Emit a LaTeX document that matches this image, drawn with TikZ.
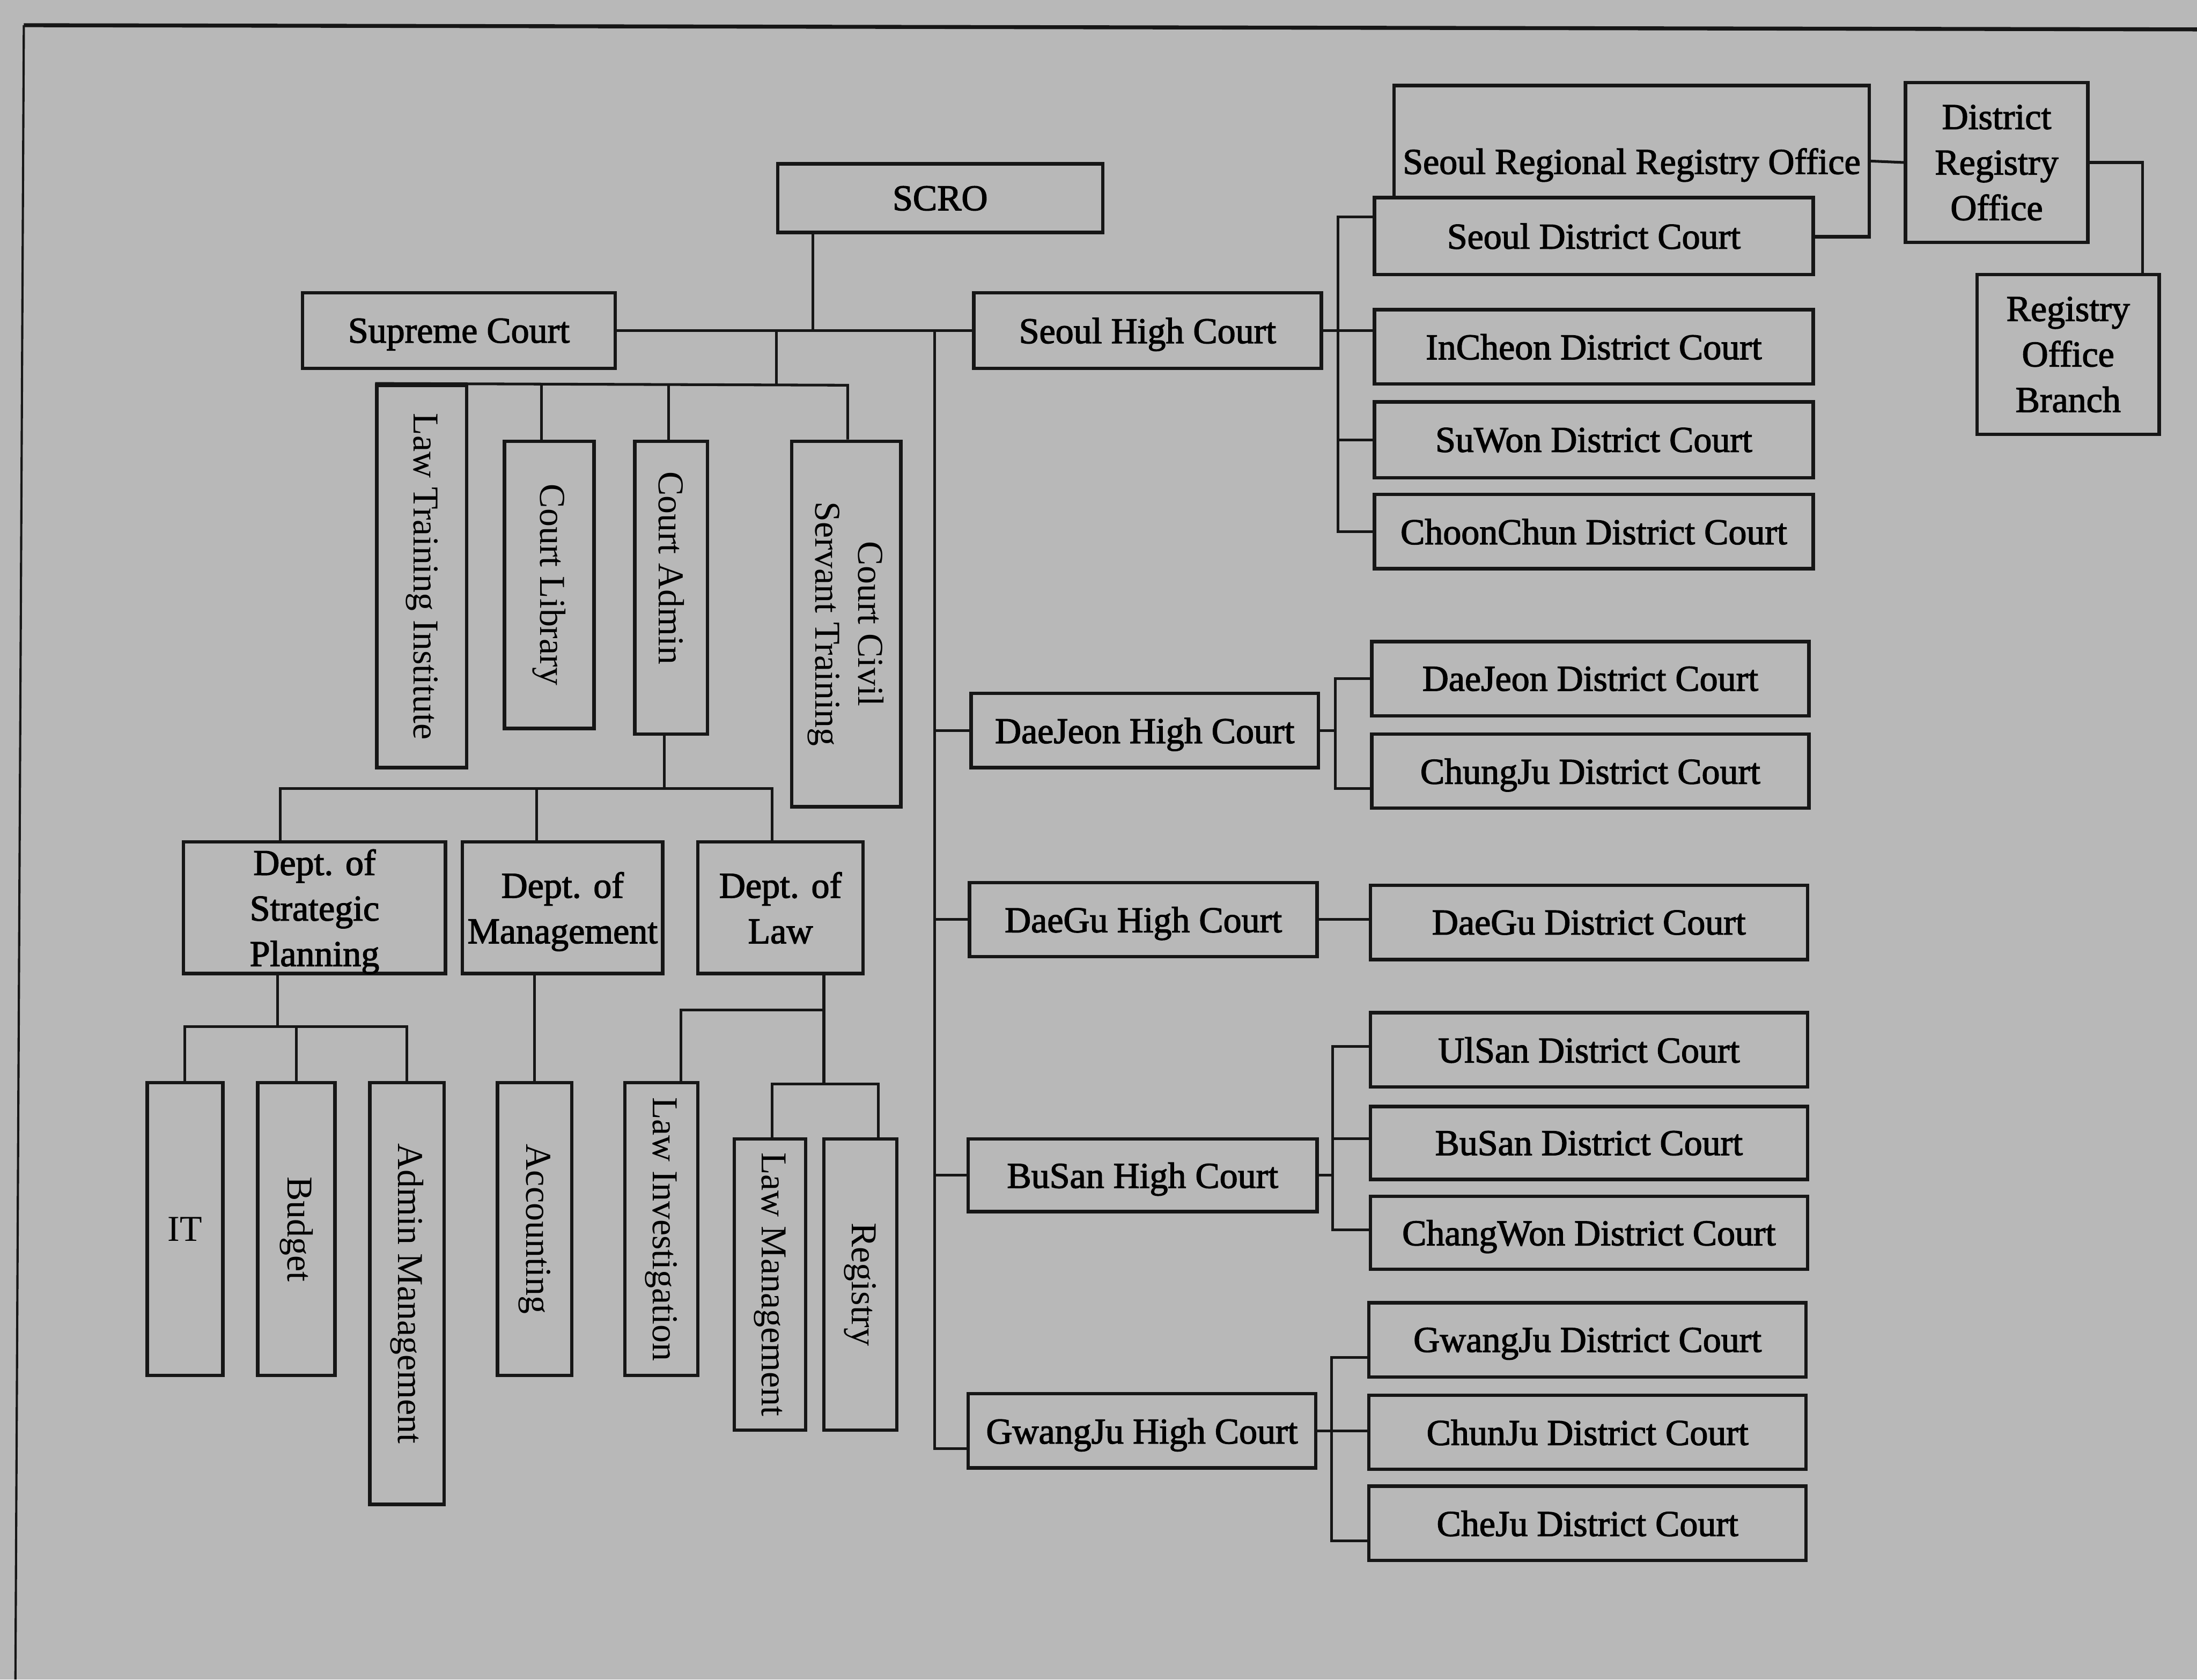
\documentclass[tikz,border=0pt]{standalone}
\usepackage{fontspec}
\setmainfont{Liberation Serif}
\newfontfamily\hv{Liberation Serif}[FakeBold=2]
\definecolor{bgc}{RGB}{184,184,184}
\definecolor{ink}{RGB}{22,22,22}
\newcommand\mkbox[7][box]{%
  \pgfmathsetmacro\bxcx{(#3+#5)/2}%
  \pgfmathsetmacro\bxcy{(#4+#6)/2}%
  \pgfmathsetmacro\bxw{(#5-#3)*0.02}%
  \pgfmathsetmacro\bxh{(#6-#4)*0.02}%
  \node[#1,minimum width=\bxw cm,minimum height=\bxh cm] (#2) at (\bxcx,\bxcy) {#7};}
\newcommand\vt[1]{\rotatebox{-90}{#1}}
\begin{document}
\begin{tikzpicture}[x=0.02cm,y=-0.02cm,
  basebox/.style={draw=ink,line width=1.4pt,inner sep=0pt,align=center},
  box/.style={basebox,text depth=0pt,
    font=\fontsize{14.8}{18.5}\selectfont\hv},
  vbox/.style={basebox,font=\fontsize{14.8}{18.5}\selectfont\rmfamily},
  conn/.style={draw=ink,line width=1.1pt}]
\fill[bgc] (0,0) rectangle (1568,1199);
\useasboundingbox (0,0) rectangle (1568,1199);
% frame
\draw[ink,line width=1.6pt] (17,18) -- (1568,21);
\draw[ink,line width=0.9pt] (17,18) -- (11,1199);

% top
\mkbox{scro}{555}{117}{787}{166}{SCRO}
\mkbox{sup}{216}{209}{439}{263}{Supreme Court}
\mkbox{shc}{695}{209}{943}{263}{Seoul High Court}

% staff units
\mkbox[vbox]{lti}{269}{275}{333}{548}{\vt{Law Training Institute}}
\mkbox[vbox]{lib}{360}{315}{424}{520}{\vt{Court Library}}
\mkbox[vbox]{adm}{453}{315}{505}{524}{\vt{Court Admin\hspace{0.56cm}}}
\mkbox[vbox]{csst}{565}{315}{643}{576}{\vt{\begin{tabular}{@{}c@{}}Court Civil\\[-1pt]Servant Training\end{tabular}}}

% departments
\mkbox{dsp}{131}{601}{318}{695}{Dept. of\\Strategic\\Planning}
\mkbox{dmg}{330}{601}{473}{695}{Dept. of\\Management}
\mkbox{dlaw}{498}{601}{616}{695}{Dept. of\\Law}

% sections
\mkbox[vbox]{it}{105}{773}{159}{982}{IT}
\mkbox[vbox]{bud}{184}{773}{239}{982}{\vt{Budget}}
\mkbox[vbox]{amg}{264}{773}{317}{1074}{\vt{Admin Management}}
\mkbox[vbox]{acc}{355}{773}{408}{982}{\vt{Accounting}}
\mkbox[vbox]{linv}{446}{773}{498}{982}{\vt{Law Investigation}}
\mkbox[vbox]{lmg}{524}{813}{575}{1021}{\vt{Law Management}}
\mkbox[vbox]{reg}{588}{813}{640}{1021}{\vt{Registry}}

% registry offices
\mkbox{srro}{995}{61}{1334}{169}{Seoul Regional Registry Office}
\mkbox{dro}{1360}{59}{1490}{173}{District\\Registry\\Office}
\mkbox{rob}{1411}{196}{1541}{310}{Registry\\Office\\Branch}

% Seoul district courts
\mkbox[box,fill=bgc]{sdc}{981}{141}{1294}{196}{Seoul District Court}
\mkbox{icdc}{981}{221}{1294}{274}{InCheon District Court}
\mkbox{swdc}{981}{287}{1294}{341}{SuWon District Court}
\mkbox{ccdc}{981}{353}{1294}{406}{ChoonChun District Court}

% other high courts and district courts
\mkbox{djhc}{693}{495}{941}{548}{DaeJeon High Court}
\mkbox{djdc}{979}{458}{1291}{511}{DaeJeon District Court}
\mkbox{cjdc}{979}{524}{1291}{577}{ChungJu District Court}
\mkbox{dghc}{692}{630}{940}{683}{DaeGu High Court}
\mkbox{dgdc}{978}{632}{1290}{685}{DaeGu District Court}
\mkbox{usdc}{978}{723}{1290}{776}{UlSan District Court}
\mkbox{bsdc}{978}{790}{1290}{842}{BuSan District Court}
\mkbox{chwdc}{978}{854}{1290}{906}{ChangWon District Court}
\mkbox{bshc}{691}{813}{940}{865}{BuSan High Court}
\mkbox{gjhc}{691}{995}{939}{1048}{GwangJu High Court}
\mkbox{gjdc}{977}{930}{1289}{983}{GwangJu District Court}
\mkbox{chjdc}{977}{996}{1289}{1049}{ChunJu District Court}
\mkbox{chedc}{977}{1061}{1289}{1114}{CheJu District Court}

% junction coordinates
\coordinate (a1) at (580,236);
\coordinate (a2) at (554,236);
\coordinate (a3) at (554,275);
\coordinate (a4) at (605,275);
\coordinate (a5) at (386.5,275);
\coordinate (a6) at (477,275);
\coordinate (b1) at (474,563);
\coordinate (b2) at (200,563);
\coordinate (b3) at (551,563);
\coordinate (b4) at (383,563);
\coordinate (c1) at (198,733);
\coordinate (d1) at (588,721);
\coordinate (d2) at (588,774);
\coordinate (d3) at (486,721);
\coordinate (d4) at (551,774);
\coordinate (d5) at (627,774);
\coordinate (m0) at (667,236);
\coordinate (m1) at (667,1034);
\coordinate (s0) at (955,155);
\coordinate (s1) at (955,379.5);
\coordinate (dj1) at (953,563);
\coordinate (bs0) at (951,747);
\coordinate (bs1) at (951,878);
\coordinate (bs2) at (951,813);
\coordinate (g0) at (950.5,969);
\coordinate (g1) at (950.5,1100);
\coordinate (r0) at (1529,116);

% connectors: supreme court side
\draw[conn] (a1 |- scro.south) -- (a1);
\draw[conn] (sup.east) -- (shc.west);
\draw[conn] (a2) -- (a3);
\draw[conn] (lti.north west) -- (a4) -- (a4 |- csst.north);
\draw[conn] (a5) -- (a5 |- lib.north);
\draw[conn] (a6) -- (a6 |- adm.north);
\draw[conn] (b1 |- adm.south) -- (b1);
\draw[conn] (b2 |- dsp.north) -- (b2) -- (b3) -- (b3 |- dlaw.north);
\draw[conn] (b4) -- (b4 |- dmg.north);
\draw[conn] (c1 |- dsp.south) -- (c1);
\draw[conn] (it.north) |- (c1 -| amg.north) -- (amg.north);
\draw[conn] (bud.north) -- (bud.north |- c1);
\draw[conn] (acc.north) -- (acc.north |- dmg.south);
\draw[conn] (d1 |- dlaw.south) -- (d2);
\draw[conn] (d1) -- (d3) -- (d3 |- linv.north);
\draw[conn] (d4 |- lmg.north) -- (d4) -- (d5) -- (d5 |- reg.north);

% connectors: high courts
\draw[conn] (m0) -- (m1) -- (m1 -| gjhc.west);
\draw[conn] (m0 |- djhc.west) -- (djhc.west);
\draw[conn] (m0 |- dghc.west) -- (dghc.west);
\draw[conn] (m0 |- bshc.west) -- (bshc.west);

% Seoul
\draw[conn] (shc.east) -- (shc.east -| icdc.west);
\draw[conn] (sdc.west |- s0) -| (s1) -- (ccdc.west);
\draw[conn] (swdc.west) -- (swdc.west -| s0);
% DaeJeon
\draw[conn] (djdc.west) -| (dj1) -- (dj1 -| cjdc.west);
\draw[conn] (djhc.east) -- (djhc.east -| dj1);
% DaeGu
\draw[conn] (dghc.east) -- (dghc.east -| dgdc.west);
% BuSan
\draw[conn] (bs0 -| usdc.west) -- (bs0) -- (bs1) -- (bs1 -| chwdc.west);
\draw[conn] (bs2) -- (bs2 -| bsdc.west);
\draw[conn] (bshc.east) -- (bshc.east -| bs0);
% GwangJu
\draw[conn] (g0 -| gjdc.west) -- (g0) -- (g1) -- (g1 -| chedc.west);
\draw[conn] (gjhc.east) -- (gjhc.east -| chjdc.west);
% registry
\draw[conn] (srro.east) -- (dro.west);
\draw[conn] (dro.east) -- (r0) -- (r0 |- rob.north);
\end{tikzpicture}
\end{document}
